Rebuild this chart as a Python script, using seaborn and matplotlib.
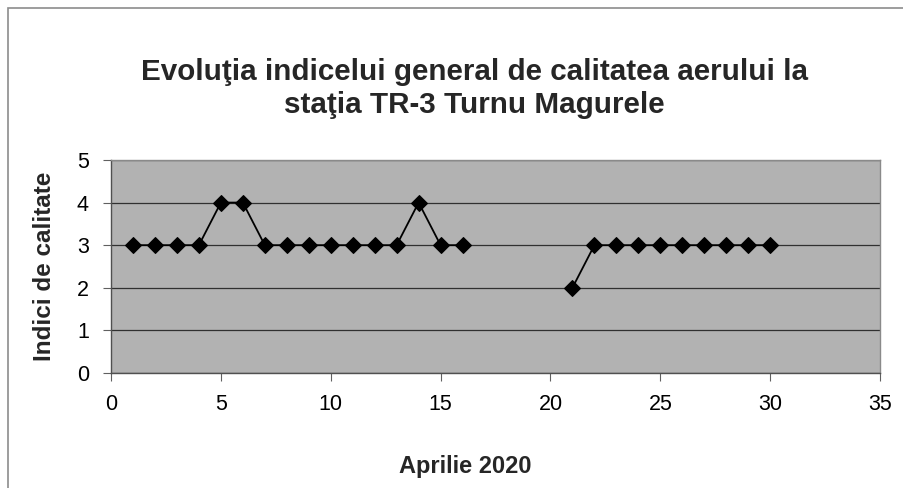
import numpy as np
import pandas as pd
import matplotlib
matplotlib.use("Agg")
import matplotlib.pyplot as plt
import seaborn as sns
from matplotlib.patches import Rectangle

days_a = [1, 2, 3, 4, 5, 6, 7, 8, 9, 10, 11, 12, 13, 14, 15, 16]
vals_a = [3, 3, 3, 3, 4, 4, 3, 3, 3, 3, 3, 3, 3, 4, 3, 3]
days_b = [21, 22, 23, 24, 25, 26, 27, 28, 29, 30]
vals_b = [2, 3, 3, 3, 3, 3, 3, 3, 3, 3]

title = "Evoluţia indicelui general de calitatea aerului la\nstaţia TR-3 Turnu Magurele"
xlabel = "Aprilie 2020"
ylabel = "Indici de calitate"

df = pd.DataFrame({
    "zi": days_a + days_b,
    "indice": vals_a + vals_b,
    "seg": ["a"] * len(days_a) + ["b"] * len(days_b),
})

sns.set_theme(style="white")
plt.rcParams["font.family"] = ["Liberation Sans", "DejaVu Sans"]

fig = plt.figure(figsize=(9.04, 4.88), dpi=100)
ax = fig.add_axes([0.1228, 0.2357, 0.8507, 0.4365])
ax.set_facecolor("#b2b2b2")

sns.lineplot(data=df, x="zi", y="indice", units="seg", estimator=None,
             color="black", linewidth=1.3, marker="D", markersize=8.5,
             markeredgecolor="black", markerfacecolor="black", ax=ax, zorder=5)

ax.set_xlim(0, 35)
ax.set_ylim(0, 5)
ax.set_xticks(range(0, 36, 5))
ax.set_yticks(range(0, 6))
ax.yaxis.grid(True, color="#303030", linewidth=0.9)
ax.xaxis.grid(False)
for s in ax.spines.values():
    s.set_color("#505050")
    s.set_linewidth(1.0)
ax.spines["top"].set_color("#8a8a8a")
ax.spines["right"].set_color("#8a8a8a")
ax.tick_params(axis="both", which="major", labelsize=15.5, length=6, width=0.8,
               color="#606060", direction="out", bottom=True, left=True,
               labelcolor="black")
ax.tick_params(axis="x", pad=9)
ax.tick_params(axis="y", pad=10)

ax.set_xlabel(xlabel, fontsize=17, fontweight="bold")
ax.set_ylabel(ylabel, fontsize=17.5, fontweight="bold")
ax.xaxis.set_label_coords(0.46, -0.44)
ax.yaxis.set_label_coords(-0.086, 0.50)
ax.xaxis.label.set_va("center")
ax.yaxis.label.set_va("center")

fig.text(0.525, 0.819, title, ha="center", va="center", fontsize=21.3,
         fontweight="bold", linespacing=1.2)

fig.patches.append(Rectangle((0.009, -0.01), 1.0, 0.993, transform=fig.transFigure,
                             fill=False, edgecolor="#8c8c8c", linewidth=1.2))

fig.savefig("out.png", dpi=100, facecolor="white")
